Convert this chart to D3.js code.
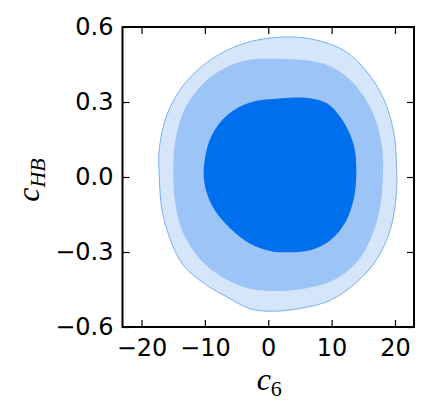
<!DOCTYPE html>
<html>
<head>
<meta charset="utf-8">
<script src="https://cdn.jsdelivr.net/npm/d3@7"></script>
<style>
  body { margin: 0; background: #fff; }
</style>
</head>
<body>
<script>
var width = 429, height = 415;

// contour outlines, as [c6, cHB]
var outer = [[2.2,0.56],[7.2,0.55],[11.9,0.507],[15.6,0.42],[18.2,0.313],[19.8,0.18],[20.25,0.047],[20.2,-0.073],[19.3,-0.207],[17.2,-0.327],[14.0,-0.42],[9.8,-0.493],[5.6,-0.523],[0.8,-0.537],[-2.85,-0.527],[-6.5,-0.48],[-9.7,-0.433],[-13.4,-0.353],[-15.5,-0.247],[-16.8,-0.127],[-17.2,0.007],[-17.2,0.113],[-16.0,0.247],[-13.4,0.367],[-9.2,0.467],[-3.9,0.534]];
var middle = [[0.3,0.473],[7.7,0.46],[11.4,0.42],[14.6,0.34],[16.9,0.233],[18.0,0.113],[18.1,0.007],[17.7,-0.113],[16.4,-0.233],[14.0,-0.34],[10.3,-0.413],[5.6,-0.447],[0.3,-0.456],[-3.9,-0.44],[-8.1,-0.387],[-11.3,-0.313],[-13.7,-0.207],[-14.7,-0.1],[-15.0,0.02],[-14.7,0.14],[-13.4,0.26],[-10.8,0.36],[-7.1,0.433],[-3.4,0.467]];
var inner = [[1.4,0.313],[6.1,0.316],[9.3,0.294],[11.9,0.22],[13.5,0.127],[13.9,0.02],[13.5,-0.087],[12.2,-0.18],[9.8,-0.253],[6.6,-0.293],[2.4,-0.301],[0.3,-0.296],[-2.85,-0.267],[-6.5,-0.193],[-8.9,-0.113],[-10.1,-0.02],[-10.0,0.073],[-8.9,0.167],[-6.5,0.247],[-2.85,0.298]];

var xTicks = [-20, -10, 0, 10, 20];
var yTicks = [-0.6, -0.3, 0.0, 0.3, 0.6];

var margin = {left: 122.5, top: 27, right: 15, bottom: 88};
var w = width - margin.left - margin.right, h = height - margin.top - margin.bottom;

var svg = d3.select("body").append("svg")
    .attr("width", width)
    .attr("height", height);

var g = svg.append("g").attr("transform", "translate(" + margin.left + "," + margin.top + ")");

var x = d3.scaleLinear().domain([-23, 23]).range([0, w]);
var y = d3.scaleLinear().domain([-0.6, 0.6]).range([h, 0]);

var line = d3.line()
    .x(function(d) { return x(d[0]); })
    .y(function(d) { return y(d[1]); })
    .curve(d3.curveCatmullRomClosed.alpha(0.5));

g.append("path").attr("d", line(outer)).attr("fill", "#d5e6fb").attr("stroke", "#6aa8f2").attr("stroke-width", 0.9);
g.append("path").attr("d", line(middle)).attr("fill", "#9dc4f6");
g.append("path").attr("d", line(inner)).attr("fill", "#006fed");

// ticks pointing inward, on all sides
var fmt = d3.format(".1f");
g.append("g").attr("transform", "translate(0," + h + ")")
    .call(d3.axisBottom(x).tickValues(xTicks).tickSizeInner(-7).tickSizeOuter(0).tickPadding(12).tickFormat(function(d) { return d < 0 ? "\u2212" + Math.abs(d) : d; }));
g.append("g")
    .call(d3.axisTop(x).tickValues(xTicks).tickSizeInner(-7).tickSizeOuter(0).tickFormat(""));
g.append("g")
    .call(d3.axisLeft(y).tickValues(yTicks).tickSizeInner(-7).tickSizeOuter(0).tickPadding(9).tickFormat(function(d) { return d < 0 ? "\u2212" + fmt(Math.abs(d)) : fmt(d); }));
g.append("g").attr("transform", "translate(" + w + ",0)")
    .call(d3.axisRight(y).tickValues(yTicks).tickSizeInner(-7).tickSizeOuter(0).tickFormat(""));

g.selectAll(".domain").remove();
g.selectAll(".tick line").attr("stroke", "#000").attr("stroke-width", 1.2);
g.selectAll(".tick text")
    .style("font-size", "24px").style("font-family", "DejaVu Sans, sans-serif").attr("fill", "#000");

g.append("rect").attr("width", w).attr("height", h)
    .attr("fill", "none").attr("stroke", "#000").attr("stroke-width", 2);

// axis labels
var xl = svg.append("text")
    .attr("x", margin.left + x(0) + 1).attr("y", 390)
    .attr("text-anchor", "middle")
    .style("font-family", "Liberation Serif, serif").style("font-style", "italic").style("font-size", "32px");
xl.append("tspan").text("c");
xl.append("tspan").attr("dy", 6).style("font-size", "22px").style("font-style", "normal").text("6");

var yl = svg.append("text")
    .attr("transform", "translate(39," + (margin.top + y(0) + 3) + ") rotate(-90)")
    .attr("text-anchor", "middle")
    .style("font-family", "Liberation Serif, serif").style("font-style", "italic").style("font-size", "32px");
yl.append("tspan").text("c");
yl.append("tspan").attr("dy", 6).style("font-size", "22px").text("HB");
</script>
</body>
</html>
